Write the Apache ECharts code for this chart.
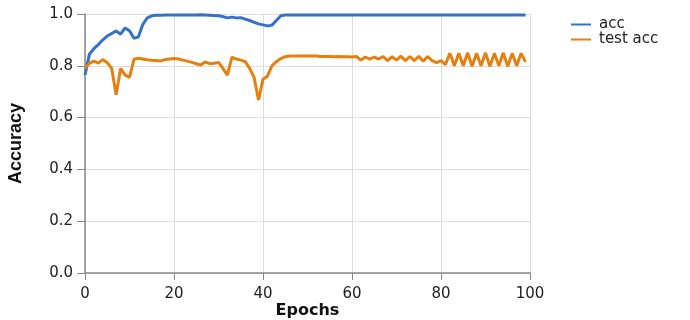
<!DOCTYPE html>
<html>
<head>
<meta charset="utf-8">
<script src="https://cdn.jsdelivr.net/npm/echarts@6/dist/echarts.min.js"></script>
<style>html,body{margin:0;padding:0;background:#fff}#c{width:690px;height:320px}</style>
</head>
<body>
<div id="c"></div>
<script>
const epochs = Array.from({length: 100}, (_, i) => i);
const accName = 'acc';
const testName = 'test acc';
const acc = [
  0.765, 0.845, 0.866, 0.882, 0.900, 0.915, 0.925, 0.935, 0.922, 0.946,
  0.935, 0.906, 0.912, 0.960, 0.985, 0.993, 0.995, 0.995, 0.996, 0.996,
  0.996, 0.996, 0.996, 0.996, 0.996, 0.996, 0.997, 0.996, 0.995, 0.994,
  0.993, 0.990, 0.985, 0.988, 0.985, 0.986, 0.980, 0.975, 0.968, 0.962,
  0.958, 0.954, 0.957, 0.975, 0.993, 0.996, 0.996, 0.996, 0.996, 0.996,
  0.996, 0.996, 0.996, 0.996, 0.996, 0.996, 0.996, 0.996, 0.996, 0.996,
  0.996, 0.996, 0.996, 0.996, 0.996, 0.996, 0.996, 0.996, 0.996, 0.996,
  0.996, 0.996, 0.996, 0.996, 0.996, 0.996, 0.996, 0.996, 0.996, 0.996,
  0.996, 0.996, 0.996, 0.996, 0.996, 0.996, 0.996, 0.996, 0.996, 0.996,
  0.996, 0.996, 0.996, 0.996, 0.996, 0.996, 0.996, 0.996, 0.996, 0.996
];
const testAcc = [
  0.790, 0.810, 0.818, 0.810, 0.824, 0.812, 0.790, 0.688, 0.790, 0.765,
  0.755, 0.825, 0.829, 0.826, 0.823, 0.821, 0.820, 0.819, 0.824, 0.826,
  0.828, 0.826, 0.822, 0.818, 0.813, 0.808, 0.803, 0.815, 0.808, 0.810,
  0.813, 0.790, 0.764, 0.833, 0.826, 0.822, 0.816, 0.790, 0.755, 0.668,
  0.748, 0.760, 0.800, 0.816, 0.828, 0.835, 0.838, 0.838, 0.838, 0.838,
  0.838, 0.838, 0.838, 0.836, 0.836, 0.836, 0.835, 0.836, 0.835, 0.835,
  0.834, 0.836, 0.822, 0.834, 0.826, 0.834, 0.826, 0.836, 0.820, 0.835,
  0.822, 0.837, 0.820, 0.836, 0.820, 0.837, 0.818, 0.836, 0.820, 0.812,
  0.820, 0.805, 0.848, 0.800, 0.848, 0.800, 0.850, 0.798, 0.848, 0.800,
  0.850, 0.798, 0.848, 0.800, 0.850, 0.798, 0.848, 0.800, 0.848, 0.815
];
const xTicks = [0, 20, 40, 60, 80, 100];
const yTicks = [0, 0.2, 0.4, 0.6, 0.8, 1.0];

const chart = echarts.init(document.getElementById('c'), null, {renderer: 'canvas'});
const font = 'DejaVu Sans, Liberation Sans, sans-serif';
const narrow = 'Liberation Sans Narrow, Liberation Sans, Arial, sans-serif';
chart.setOption({
  animation: false,
  backgroundColor: '#fff',
  grid: {left: 85, right: 160, top: 14, bottom: 47, containLabel: false, outerBoundsMode: 'none'},
  legend: {
    orient: 'vertical', left: 566, top: 12, itemWidth: 20, itemHeight: 2, itemGap: 0,
    icon: 'rect',
    textStyle: {fontFamily: font, fontSize: 15, lineHeight: 15, color: '#222', padding: [0, 0, 0, 3]},
    data: [accName, testName]
  },
  xAxis: {
    type: 'value', min: 0, max: 100, interval: 20,
    name: 'Epochs', nameLocation: 'middle', nameGap: 30, nameMoveOverlap: false,
    nameTextStyle: {fontFamily: font, fontSize: 16, fontWeight: 'bold', color: '#111'},
    axisLine: {show: true, lineStyle: {color: '#888', width: 1.5}},
    axisTick: {show: true, length: 7, lineStyle: {color: '#888'}},
    axisLabel: {fontFamily: font, fontSize: 15, color: '#222', margin: 14,
      formatter: v => xTicks.includes(v) ? String(v) : ''},
    splitLine: {show: true, lineStyle: {color: '#ddd', width: 1}}
  },
  yAxis: {
    type: 'value', min: 0, max: 1, interval: 0.2,
    name: 'Accuracy', nameLocation: 'middle', nameGap: 60,
    nameTextStyle: {fontFamily: narrow, fontSize: 18, fontWeight: 'bold', color: '#111'},
    axisLine: {show: true, lineStyle: {color: '#888', width: 1.5}},
    axisTick: {show: true, length: 8, lineStyle: {color: '#888'}},
    axisLabel: {fontFamily: font, fontSize: 15, color: '#222', margin: 12,
      formatter: v => yTicks.some(t => Math.abs(t - v) < 1e-9) ? v.toFixed(1) : ''},
    splitLine: {show: true, lineStyle: {color: '#ddd', width: 1}}
  },
  series: [
    {name: accName, type: 'line', data: epochs.map((e, i) => [e, acc[i]]),
      showSymbol: false, lineStyle: {width: 3, color: '#3372c8'}, itemStyle: {color: '#3372c8'}},
    {name: testName, type: 'line', data: epochs.map((e, i) => [e, testAcc[i]]),
      showSymbol: false, lineStyle: {width: 3, color: '#e5800f'}, itemStyle: {color: '#e5800f'}}
  ]
});
</script>
</body>
</html>
